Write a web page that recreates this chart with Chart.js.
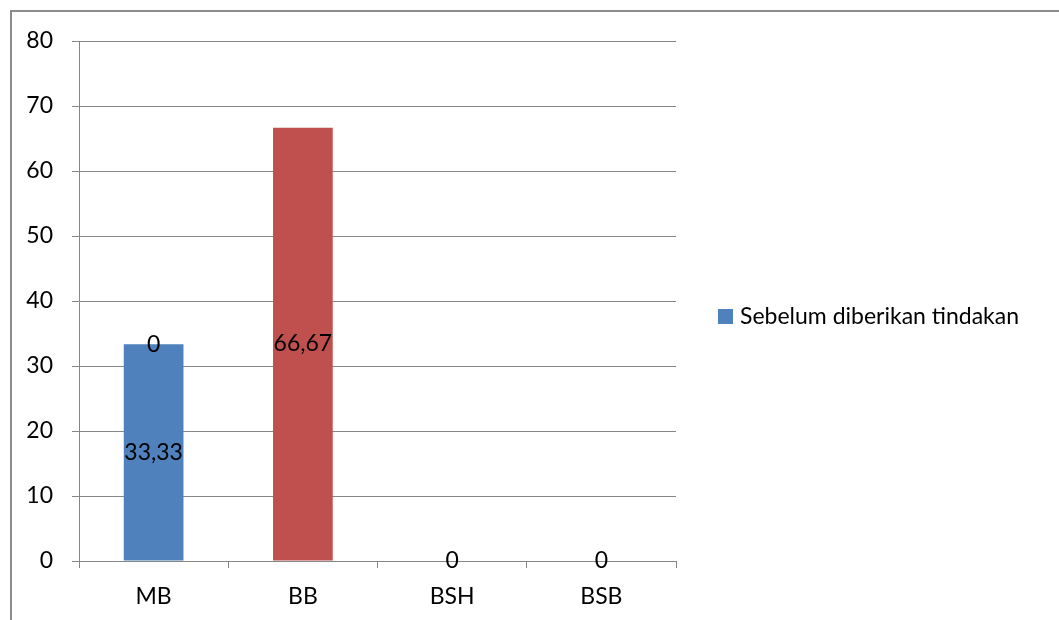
<!DOCTYPE html>
<html>
<head>
<meta charset="utf-8">
<script src="https://cdn.jsdelivr.net/npm/chart.js@4/dist/chart.umd.min.js"></script>
<style>
    body { margin: 0; background: #fff; overflow: hidden; }
    #wrap { position: relative; width: 1059px; height: 620px; }
    #frame { position: absolute; left: 10px; top: 10px; width: 1100px; height: 700px; border-top: 2px solid #8c8c8c; border-left: 2px solid #8c8c8c; }
    canvas { position: absolute; left: 0; top: 0; }
</style>
</head>
<body>
<div id="wrap">
    <div id="frame"></div>
    <canvas id="chart" width="1059" height="620"></canvas>
</div>
<script>
const categories = ['MB', 'BB', 'BSH', 'BSB'];
const seriesName = 'Sebelum diberikan tindakan';
const sebelum = [33.33, 66.67, 0, 0];
const extraLabel = [0, null, null, null]; // stray "0" label sitting on top of MB
const barColors = ['#4f81bd', '#c0504d', '#9bbb59', '#8064a2'];
const yTicks = [0, 10, 20, 30, 40, 50, 60, 70, 80];

const fontFamily = 'Lato, "Open Sans", sans-serif';
const fontSize = 23;

function formatValue(v) {
    return String(v).replace('.', ',');
}

// draws the value labels centred in each bar, like the Excel original
const valueLabels = {
    id: 'valueLabels',
    afterDatasetsDraw(chart) {
        const ctx = chart.ctx;
        ctx.save();
        ctx.font = fontSize + 'px ' + fontFamily;
        ctx.fillStyle = '#000';
        ctx.textAlign = 'center';
        ctx.textBaseline = 'middle';
        chart.data.datasets.forEach((ds, i) => {
            chart.getDatasetMeta(i).data.forEach((bar, j) => {
                if (ds.data[j] === null) return;
                const y = (bar.y + bar.base) / 2;
                ctx.fillText(formatValue(ds.data[j]), bar.x, y);
            });
        });
        ctx.restore();
    }
};

// simple legend on the right side
const sideLegend = {
    id: 'sideLegend',
    afterDraw(chart) {
        const ctx = chart.ctx;
        const y = (chart.chartArea.top + chart.chartArea.bottom) / 2 + 16;
        const x = chart.chartArea.right + 42;
        ctx.save();
        ctx.fillStyle = barColors[0];
        ctx.fillRect(x, y - 8, 15, 15);
        ctx.font = fontSize + 'px ' + fontFamily;
        ctx.fillStyle = '#000';
        ctx.textBaseline = 'middle';
        ctx.fillText(seriesName, x + 22, y);
        ctx.restore();
    }
};

new Chart(document.getElementById('chart'), {
    type: 'bar',
    data: {
        labels: categories,
        datasets: [{
            label: seriesName,
            data: sebelum,
            backgroundColor: barColors,
            categoryPercentage: 1,
            barPercentage: 0.4,
            stack: 's'
        }, {
            label: '',
            data: extraLabel,
            backgroundColor: barColors[0],
            categoryPercentage: 1,
            barPercentage: 0.4,
            stack: 's'
        }]
    },
    options: {
        responsive: false,
        animation: false,
        layout: { padding: { left: 0, right: 383, top: 41, bottom: 0 } },
        plugins: {
            legend: { display: false },
            tooltip: { enabled: false }
        },
        scales: {
            x: {
                stacked: true,
                afterFit: axis => { axis.height = 59; },
                grid: { display: true, drawOnChartArea: false, offset: true, color: '#868686', tickLength: 7 },
                border: { color: '#868686' },
                ticks: { color: '#000', font: { family: fontFamily, size: fontSize }, padding: 15 }
            },
            y: {
                stacked: true,
                min: 0,
                max: 80,
                afterBuildTicks: axis => { axis.ticks = yTicks.map(v => ({ value: v })); },
                afterFit: axis => { axis.width = 79; },
                grid: { color: '#868686', tickLength: 7 },
                border: { color: '#868686' },
                ticks: { color: '#000', font: { family: fontFamily, size: fontSize }, padding: 19 }
            }
        }
    },
    plugins: [valueLabels, sideLegend]
});
</script>
</body>
</html>
